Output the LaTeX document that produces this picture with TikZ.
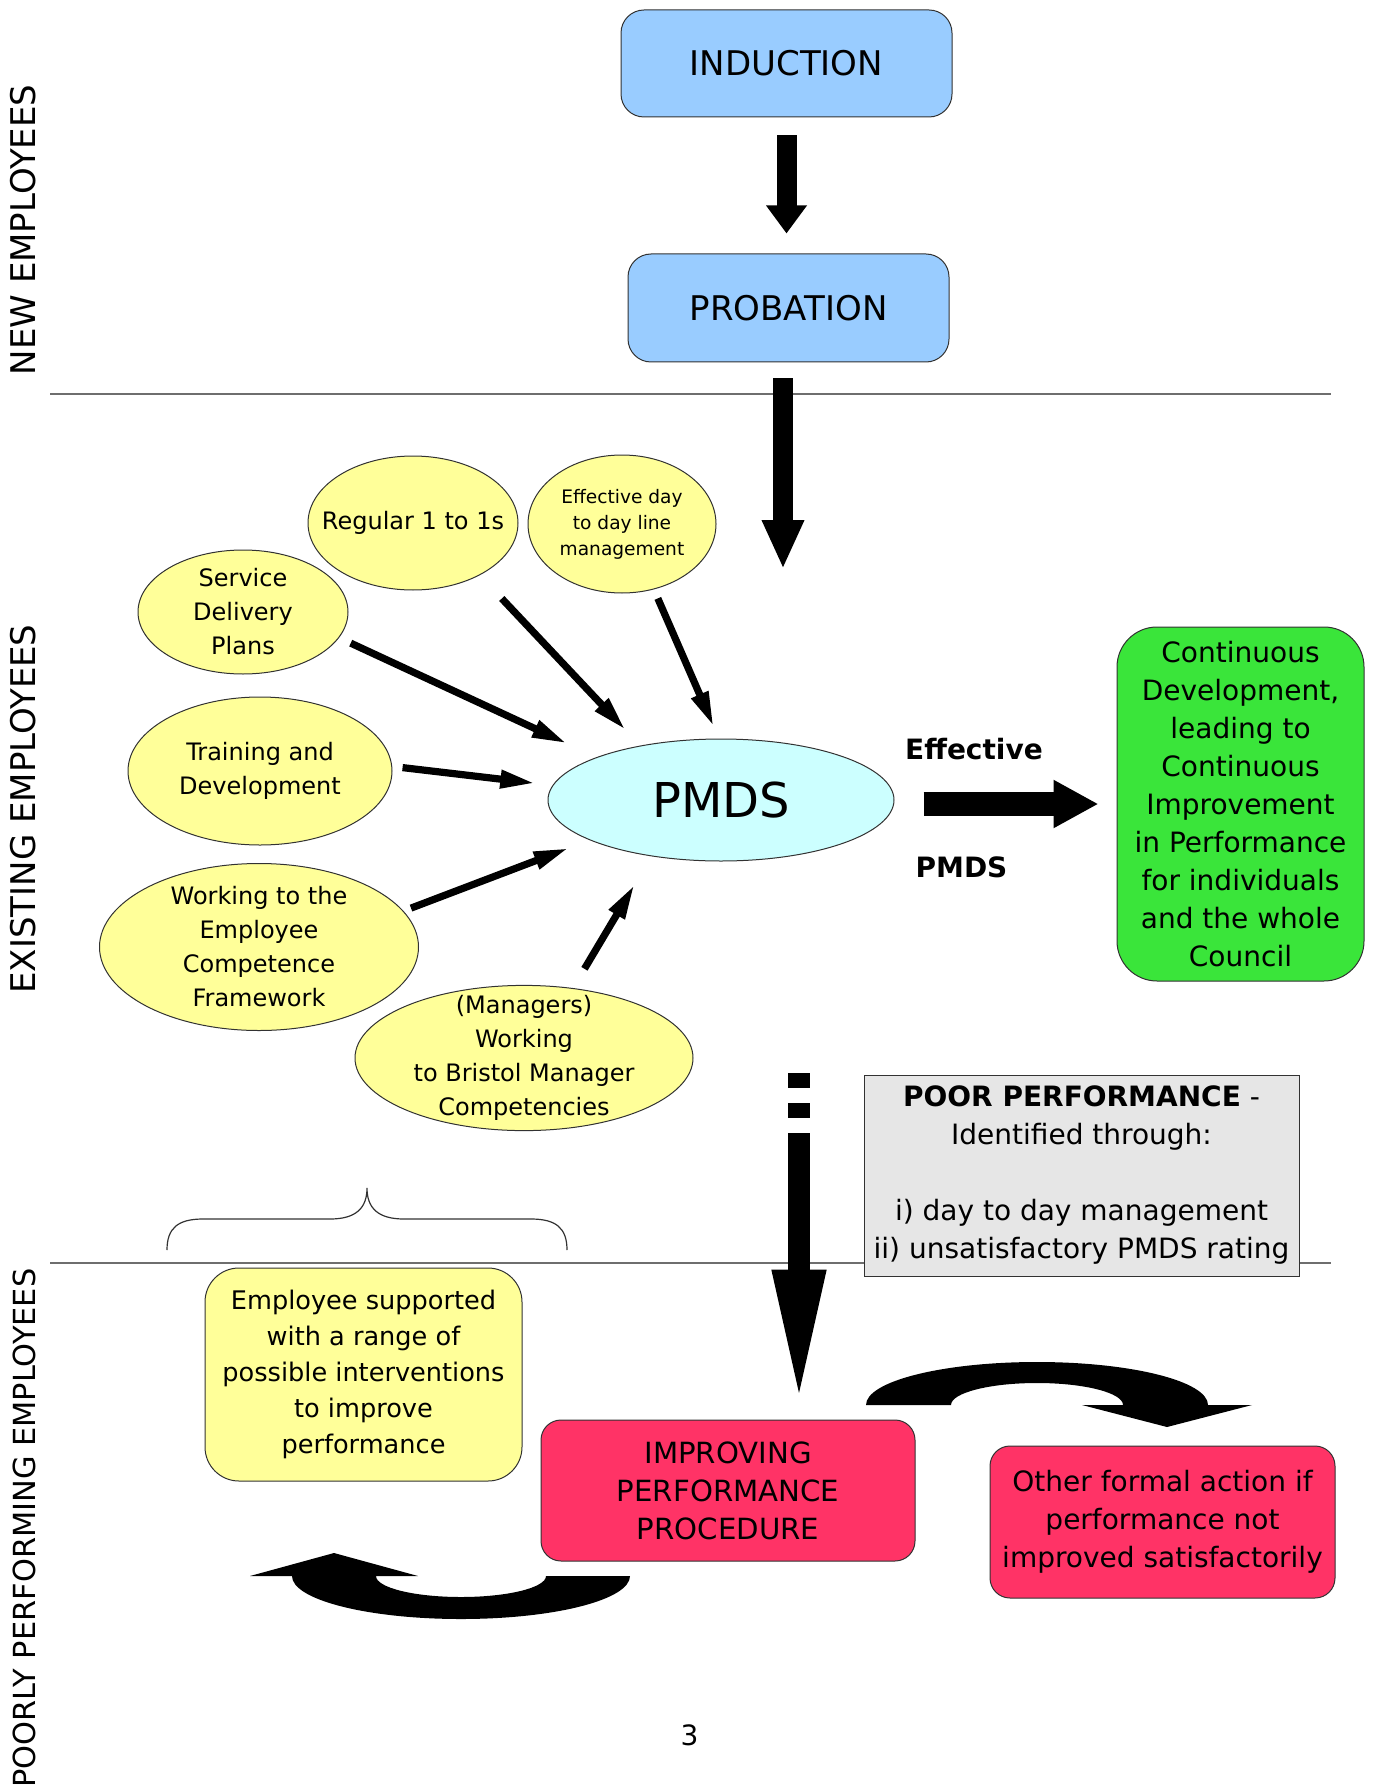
\documentclass[tikz,border=0pt]{standalone}
\usepackage{fontspec}
\setmainfont{DejaVu Sans}
\usepackage{tikz}
\usetikzlibrary{arrows.meta,shapes.geometric,calc}

\definecolor{stageblue}{RGB}{153,204,255}
\definecolor{pmdscyan}{RGB}{204,255,255}
\definecolor{bubbleyellow}{RGB}{255,255,153}
\definecolor{contgreen}{RGB}{58,229,58}
\definecolor{ipred}{RGB}{255,51,102}
\definecolor{poorgrey}{RGB}{230,230,230}
\definecolor{rulegrey}{RGB}{110,110,110}
\definecolor{boxedge}{RGB}{50,50,50}

\tikzset{
  roundbox/.style={draw=boxedge, line width=0.5pt, align=center, inner sep=2pt},
  stagebox/.style={roundbox, fill=stageblue, rounded corners=11.5pt, font=\fontsize{17}{20}\selectfont},
  bubble/.style={ellipse, draw=boxedge, line width=0.5pt, fill=bubbleyellow, inner sep=0pt},
  bubbletext/.style={align=center, inner sep=0pt, font=\fontsize{12}{17}\selectfont},
  feed/.style={line width=3.6pt, -{Triangle[width=8.5pt,length=17.5pt]}},
  fatarrow/.style={line width=10pt, -{Triangle[width=19.5pt,length=#1]}},
  fatarrow/.default=14pt,
  widearrow/.style={line width=12pt, -{Triangle[width=22.5pt,length=22.5pt]}},
  dropdash/.style={line width=11pt, dash pattern=on 7.5pt off 7.5pt on 7.5pt off 7.5pt on 300pt,
    -{Triangle[width=24pt,length=68.5pt]}},
  sidelabel/.style={rotate=90, anchor=base, inner sep=0pt, font=\fontsize{17}{20}\selectfont},
  rulerline/.style={draw=rulegrey, line width=0.6pt}
}

\begin{document}
\begin{tikzpicture}[x=0.5pt, y=-0.5pt]
        \useasboundingbox (0,0) rectangle (1372,1792);

        %Lines
        \draw [rulerline] (50,394) -- (1331,394);
        \draw [rulerline] (50,1263) -- (1331,1263);

        %Side labels
        \node [sidelabel] (newlab) at (35,230) {NEW EMPLOYEES};
        \node [sidelabel] (existlab) at (35,809) {EXISTING EMPLOYEES};
        \node [sidelabel, font=\fontsize{15.2}{18}\selectfont] (poorlab) at (35,1528) {POORLY PERFORMING EMPLOYEES};

        %New employees
        \node [stagebox, minimum width=165.5pt, minimum height=53.5pt] (induction) at (786.5,63.5) {INDUCTION};
        \node [stagebox, minimum width=160.5pt, minimum height=54pt] (probation) at (788.5,308) {PROBATION};
        \draw [fatarrow] ($(induction.south)+(0,18)$) -- ($(induction.south |- probation.north)+(0,-20)$);
        \coordinate (dropend) at (783,569);
        \draw [fatarrow=24.5pt] ($(probation.south -| dropend)+(0,16)$) -- (dropend);

        %Existing employees
        \node [bubble, fill=pmdscyan, minimum width=173pt, minimum height=61pt,
               label={[font=\fontsize{24}{28}\selectfont]center:PMDS}] (pmds) at (721,800) {};
        \node [bubble, minimum width=105pt, minimum height=67pt,
               label={[bubbletext]center:Regular 1 to 1s}] (reg) at (413,523) {};
        \node [bubble, minimum width=94pt, minimum height=69pt,
               label={[bubbletext, font=\fontsize{9.3}{13}\selectfont]center:Effective day\\to day line\\management}] (eff) at (622,524) {};
        \node [bubble, minimum width=105pt, minimum height=62pt,
               label={[bubbletext]center:Service\\Delivery\\Plans}] (sdp) at (243,612) {};
        \node [bubble, minimum width=132pt, minimum height=74pt,
               label={[bubbletext]center:Training and\\Development}] (train) at (260,771) {};
        \node [bubble, minimum width=159.5pt, minimum height=83.5pt,
               label={[bubbletext]center:Working to the\\Employee\\Competence\\Framework}] (work) at (259,947) {};
        \node [bubble, minimum width=169pt, minimum height=72.6pt,
               label={[bubbletext]center:(Managers)\\Working\\to Bristol Manager\\Competencies}] (mgr) at (524,1058) {};

        \draw [feed, shorten <=6.4pt, shorten >=16.3pt] (sdp.-15) -- (pmds.161.1);
        \draw [feed, shorten <=16pt, shorten >=10.7pt] (reg.-38.4) -- (pmds.146.3);
        \draw [feed, shorten <=4.9pt, shorten >=6.5pt] (eff.-64.7) -- (pmds.92.3);
        \draw [feed, shorten <=5.2pt, shorten >=8.7pt] (train.2.8) -- (pmds.175.4);
        \draw [feed, shorten <=4pt, shorten >=11.2pt] (work.14.9) -- (pmds.197.9);
        \draw [feed, shorten <=11.2pt, shorten >=16.5pt] (mgr.55.3) -- (pmds.219.3);

        %Effective PMDS
        \node [roundbox, fill=contgreen, rounded corners=20pt, minimum width=123.5pt, minimum height=177pt,
               font=\fontsize{14}{19}\selectfont] (cont) at (1240.5,804)
              {Continuous\\Development,\\leading to\\Continuous\\Improvement\\in Performance\\for individuals\\and the whole\\Council};
        \node [font=\bfseries\fontsize{14}{17}\selectfont] (efflab) at (974,749) {Effective};
        \node [font=\bfseries\fontsize{14}{17}\selectfont] (pmdslab) at (961.5,867) {PMDS};
        \draw [widearrow] ($(pmds.east |- cont.west)+(29,0)$) -- ($(cont.west)+(-18,0)$);

        %Poor performance
        \node [draw=boxedge, line width=0.5pt, fill=poorgrey, minimum width=217.5pt, minimum height=100.5pt,
               align=center, font=\fontsize{14}{19}\selectfont] (poor) at (1081.5,1175.5)
              {\textbf{POOR PERFORMANCE} -\\Identified through:\\[19pt]i) day to day management\\ii) unsatisfactory PMDS rating};
        \draw [boxedge, line width=0.6pt] (167,1250) .. controls (167,1228) and (178,1219) .. (203,1219) -- (330,1219)
              .. controls (356,1219) and (367,1208) .. (367,1188) .. controls (367,1208) and (378,1219) .. (404,1219)
              -- (531,1219) .. controls (556,1219) and (567,1228) .. (567,1250);

        %Poorly performing employees
        \node [roundbox, fill=bubbleyellow, rounded corners=17pt, minimum width=158.5pt, minimum height=106.5pt,
               font=\fontsize{12.8}{18}\selectfont] (support) at (363.5,1374.5)
              {Employee supported\\with a range of\\possible interventions\\to improve\\performance};
        \node [roundbox, fill=ipred, rounded corners=10pt, minimum width=187pt, minimum height=70.5pt,
               font=\fontsize{14.6}{19}\selectfont] (ipp) at (728,1490.5) {IMPROVING\\PERFORMANCE\\PROCEDURE};
        \node [roundbox, fill=ipred, rounded corners=10pt, minimum width=172.5pt, minimum height=76pt,
               font=\fontsize{14}{19}\selectfont] (other) at (1162.5,1522)
              {Other formal action if\\performance not\\improved satisfactorily};
        \coordinate (flagtop) at (799,1073);
        \draw [dropdash] (flagtop) -- ($(flagtop |- ipp.north)+(0,-13)$);

        %Curved arrows
        \fill (866,1405) arc[start angle=180, end angle=360, x radius=171, y radius=43] -- (1252,1405)
              -- (1167,1427) -- (1082,1405) -- (1123,1405) arc[start angle=0, end angle=-180, x radius=86, y radius=22] -- cycle;
        \fill (630,1576) arc[start angle=0, end angle=180, x radius=169, y radius=43] -- (250,1576)
              -- (334,1553) -- (418,1576) -- (376,1576) arc[start angle=180, end angle=0, x radius=85, y radius=21] -- cycle;

        \node [font=\fontsize{14}{17}\selectfont] (pagenum) at (689.5,1735.5) {3};

\end{tikzpicture}
\end{document}
